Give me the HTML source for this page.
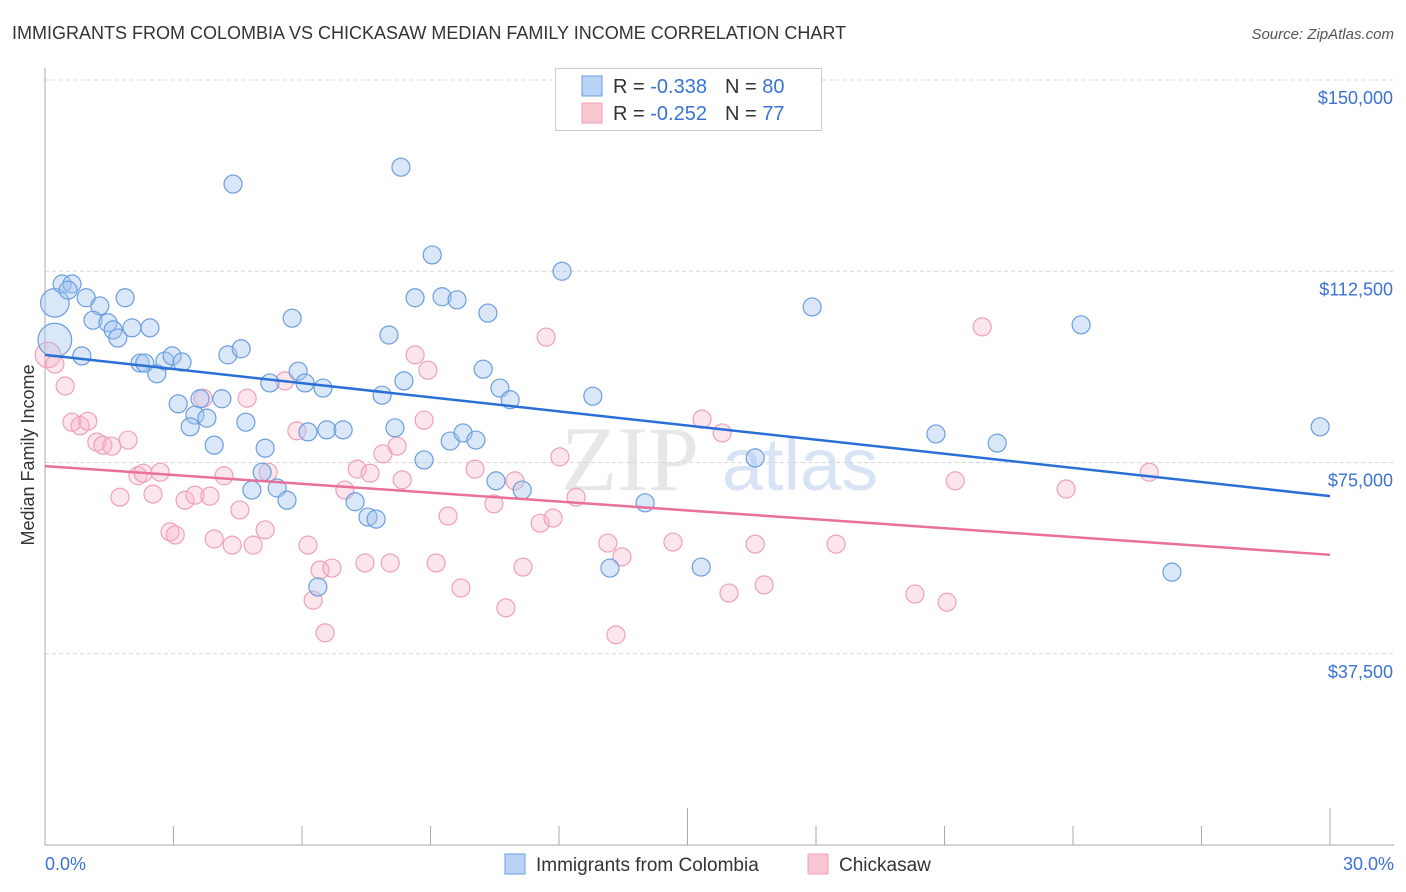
<!DOCTYPE html>
<html><head><meta charset="utf-8">
<style>
body{margin:0;background:#fff;font-family:"Liberation Sans",sans-serif;}
#wrap{position:relative;width:1406px;height:892px;overflow:hidden;}
</style></head>
<body>
<div id="wrap">
<svg id="chart" width="1406" height="892" xmlns="http://www.w3.org/2000/svg">
<text x="12" y="39" font-size="18" fill="#333">IMMIGRANTS FROM COLOMBIA VS CHICKASAW MEDIAN FAMILY INCOME CORRELATION CHART</text>
<text x="1394" y="39" font-size="15" fill="#555" font-style="italic" text-anchor="end">Source: ZipAtlas.com</text>
<text transform="translate(34,455) rotate(-90)" font-size="18" fill="#333" text-anchor="middle">Median Family Income</text>
<g>
<text x="630" y="490" font-size="92" fill="#ddd" font-family="Liberation Serif,serif" text-anchor="middle" opacity="0.7">ZIP</text>
<text x="800" y="490" font-size="74" fill="#c8daf2" text-anchor="middle" opacity="0.7">atlas</text>
</g>
<g id="grid"></g>
<g id="axes"></g>
<g id="pts"></g>
<g id="lines"></g>
<g>
<rect x="555.5" y="68.5" width="266" height="62" fill="#fff" stroke="#ccc"/>
<rect x="582" y="76" width="20" height="20" fill="#b8d3f5" stroke="#6a9ee0"/>
<rect x="582" y="103" width="20" height="20" fill="#f9c6d4" stroke="#f0a0b8"/>
<text x="613" y="93" font-size="20" fill="#333">R = <tspan fill="#3a72d6">-0.338</tspan><tspan dx="18">N = </tspan><tspan fill="#3a72d6">80</tspan></text>
<text x="613" y="120" font-size="20" fill="#333">R = <tspan fill="#3a72d6">-0.252</tspan><tspan dx="18">N = </tspan><tspan fill="#3a72d6"> 77</tspan></text>
</g>
<g>
<rect x="505" y="854" width="20" height="20" fill="#b8d3f5" stroke="#6a9ee0"/>
<text x="536" y="871" font-size="19" fill="#333">Immigrants from Colombia</text>
<rect x="808" y="854" width="20" height="20" fill="#f9c6d4" stroke="#f0a0b8"/>
<text x="839" y="871" font-size="19" fill="#333">Chickasaw</text>
</g>
<text x="45" y="870" font-size="18" fill="#3a72d6">0.0%</text>
<text x="1394" y="870" font-size="18" fill="#3a72d6" text-anchor="end">30.0%</text>
</svg>
</div>
<script>
const yTicks=[150000,112500,75000,37500];
const yTickLabels=["$150,000","$112,500","$75,000","$37,500"];
const blueX=[0.23,0.23,0.4,0.63,0.54,0.96,1.28,1.87,1.12,1.47,1.59,1.7,2.45,2.03,0.86,2.22,2.33,2.61,2.8,2.97,3.2,3.11,3.5,3.39,3.78,3.95,3.62,4.13,4.27,4.58,4.39,4.69,5.14,5.07,4.83,5.42,5.65,5.25,5.77,5.91,6.07,6.49,6.14,6.58,6.96,7.24,7.54,7.73,6.37,7.87,8.03,8.17,8.38,8.31,8.64,8.85,9.04,9.27,9.62,9.46,9.76,10.06,10.23,10.34,10.62,10.86,10.53,11.14,12.07,12.79,13.19,14.01,15.32,16.58,17.91,20.8,22.23,24.19,26.31,29.77];
const blueY=[99.0,106.3,110.0,110.0,108.8,107.3,105.7,107.3,102.9,102.4,101.0,99.4,101.4,101.4,95.9,94.5,94.5,92.4,94.9,95.9,94.7,86.5,84.3,82.0,83.7,78.4,87.5,87.5,96.1,97.3,129.6,82.9,77.8,73.1,69.6,70.0,67.6,90.6,103.3,92.9,90.6,89.6,81.0,81.4,81.4,67.3,64.3,63.9,50.6,88.2,100.0,81.8,91.0,132.9,107.3,75.5,115.7,107.5,106.9,79.2,80.8,79.4,93.3,104.3,89.6,87.3,71.4,69.6,112.5,88.0,54.3,67.1,54.5,75.9,105.5,80.6,78.8,102.0,53.5,82.0];
const blueW=[3.5,2.5];
const pinkX=[0.07,0.23,0.47,0.63,0.82,1.0,1.21,1.35,1.56,1.94,1.75,2.17,2.29,2.52,2.69,2.92,3.04,3.27,3.5,3.69,3.85,3.95,4.18,4.37,4.55,4.72,4.86,5.14,5.21,5.6,5.88,6.14,6.26,6.42,6.54,6.7,7.0,7.29,7.47,7.59,7.89,8.06,8.22,8.34,8.64,8.85,8.94,9.13,9.41,9.71,10.04,10.48,10.76,10.97,11.16,11.56,11.86,11.7,12.02,12.4,13.14,13.33,13.47,14.66,15.34,15.81,15.97,16.58,16.79,18.47,20.31,21.06,21.25,21.88,23.84,25.78];
const pinkY=[96.1,94.3,90.0,82.9,82.2,83.1,79.0,78.4,78.2,79.4,68.2,72.4,72.9,68.8,73.1,61.4,60.8,67.6,68.6,87.6,68.4,60.0,72.4,58.8,65.7,87.6,58.8,61.8,73.1,91.0,81.2,58.8,48.0,53.9,41.6,54.3,69.6,73.7,55.3,72.9,76.7,55.3,78.2,71.6,96.1,83.3,93.1,55.3,64.5,50.4,73.7,66.9,46.5,71.4,54.5,63.1,64.1,99.6,76.1,68.2,59.2,41.2,56.5,59.4,83.5,80.8,49.4,59.0,51.0,59.0,49.2,47.6,71.4,101.6,69.8,73.1];
const pinkW=[2];
const blueTrend=[96.1,68.4];
const pinkTrend=[74.3,56.9];
const xDomain=[0,30];

const X0=45,X1=1330,Y0=845;
function sx(p){return X0+(p-xDomain[0])/(xDomain[1]-xDomain[0])*(X1-X0);}
function sy(v){return Y0-v*0.0051;}
const NS="http://www.w3.org/2000/svg";
function mk(tag,attrs,parent){const e=document.createElementNS(NS,tag);for(const k in attrs)e.setAttribute(k,attrs[k]);parent.appendChild(e);return e;}
const grid=document.getElementById('grid'),axes=document.getElementById('axes'),pts=document.getElementById('pts'),lines=document.getElementById('lines');
yTicks.forEach((t,i)=>{
  const y=sy(t);
  const l=mk('line',{x1:X0,x2:1394,y1:y,y2:y,stroke:'#d8d8d8','stroke-dasharray':'4,3'},grid);
  
  
  const tx=mk('text',{x:1393,y:y+24,'font-size':18,fill:'#3a72d6','text-anchor':'end'},axes);
  tx.textContent=yTickLabels[i];
  
  
});
const ya=mk('line',{x1:X0,x2:X0,y1:68,y2:Y0,stroke:'#aaa'},axes);


const xa=mk('line',{x1:X0,x2:1394,y1:Y0,y2:Y0,stroke:'#aaa'},axes);


for(let i=1;i<=10;i++){
  const x=sx(i*3);
  const tk=mk('line',{x1:x,x2:x,y1:(i%5==0)?808:826,y2:Y0,stroke:'#aaa'},axes);
  
  
}
function drawSeries(xs,ys,ws,fill,stroke,name){
  xs.forEach((x,i)=>{
    const r=9*(ws[i]?Math.sqrt(ws[i]):1);
    const c=mk('circle',{cx:sx(x),cy:sy(ys[i]*1000),r:r,fill:fill,stroke:stroke,'stroke-width':1.2},pts);
    
    
  });
}
drawSeries(pinkX,pinkY,pinkW,'rgba(248,180,200,0.35)','#f0a0b8','point-chickasaw');
drawSeries(blueX,blueY,blueW,'rgba(160,196,240,0.4)','#6a9ee0','point-colombia');
const bl=mk('line',{x1:sx(xDomain[0]),x2:sx(xDomain[1]),y1:sy(blueTrend[0]*1000),y2:sy(blueTrend[1]*1000),stroke:'#2a6fd6','stroke-width':2.5},lines);


const pl=mk('line',{x1:sx(xDomain[0]),x2:sx(xDomain[1]),y1:sy(pinkTrend[0]*1000),y2:sy(pinkTrend[1]*1000),stroke:'#e8709a','stroke-width':2.5},lines);


</script>
</body></html>
